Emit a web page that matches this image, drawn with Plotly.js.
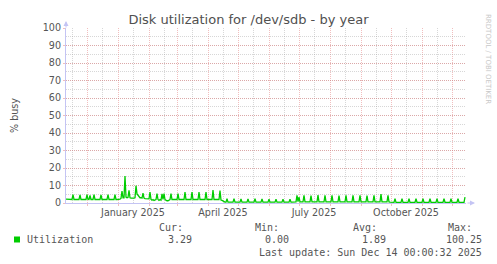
<!DOCTYPE html>
<html>
<head>
<meta charset="utf-8">
<script src="https://cdn.plot.ly/plotly-3.0.1.min.js"></script>
<style>
  html, body { margin: 0; padding: 0; background: #ffffff; }
  #chart { width: 497px; height: 264px; }
</style>
</head>
<body>
<div id="chart"></div>
<script>
// ---------- data (daily averages, 2024-11-10 .. 2025-12-14) ----------
const startDate = '2024-11-10';
const utilization = [
  2.2, 2.1, 2.0, 2.0, 2.1, 2.0, 2.0,
  4.8, 2.0, 2.0, 2.0, 2.1, 2.0, 2.0,
  4.7, 2.0, 2.0, 2.1, 2.0, 2.0, 2.0,
  4.8, 2.1, 2.0, 4.3, 2.0, 2.0, 2.0,
  4.8, 2.0, 2.0, 2.0, 2.0, 2.1, 2.0,
  4.7, 2.0, 2.0, 2.0, 2.0, 2.0, 2.0,
  4.8, 2.0, 2.0, 2.0, 2.0, 2.0, 2.0,
  4.8, 2.0, 2.0, 2.0, 2.0, 2.2, 2.6,
  6.8, 3.0, 3.0, 15.4, 3.4, 3.0, 3.2,
  7.3, 3.0, 2.8, 2.7, 2.8, 2.8, 3.0,
  9.9, 5.2, 4.4, 3.2, 3.0, 3.0, 2.8,
  5.6, 2.8, 2.5, 2.4, 2.4, 2.3, 2.4,
  6.2, 2.1, 1.6, 2.0, 1.5, 1.6, 2.0,
  5.3, 2.0, 1.5, 2.0, 1.6, 5.2, 2.0,
  5.3, 1.9, 1.5, 1.3, 1.3, 1.5, 1.9,
  5.3, 2.0, 2.0, 2.0, 2.0, 2.0, 2.0,
  5.4, 2.0, 2.0, 2.0, 2.0, 2.0, 2.0,
  6.2, 2.0, 2.0, 2.0, 2.0, 2.0, 2.0,
  6.3, 2.0, 2.0, 2.0, 2.0, 2.0, 2.0,
  6.2, 2.0, 2.0, 2.0, 2.0, 2.0, 2.0,
  6.2, 2.0, 2.0, 2.0, 2.0, 2.0, 2.0,
  7.4, 2.0, 2.0, 2.0, 2.0, 2.0, 2.0,
  7.1, 1.7, 1.5, 1.1, 0.7, 0.5, 0.5,
  2.4, 0.5, 0.5, 0.5, 0.5, 0.5, 0.5,
  2.4, 0.5, 0.5, 0.5, 0.5, 0.5, 0.5,
  2.3, 0.5, 0.5, 0.5, 0.5, 0.5, 0.5,
  2.3, 0.5, 0.5, 0.5, 0.5, 0.5, 0.5,
  2.4, 0.5, 0.5, 0.5, 0.5, 0.5, 0.5,
  2.3, 0.5, 0.5, 0.5, 0.5, 0.5, 0.5,
  2.2, 0.5, 0.5, 0.5, 0.5, 0.5, 0.5,
  2.1, 0.5, 0.5, 0.5, 0.5, 0.5, 0.5,
  2.2, 0.5, 0.5, 0.5, 0.5, 0.5, 0.5,
  2.2, 0.5, 0.5, 0.5, 0.5, 0.6, 0.7,
  4.4, 0.8, 3.4, 0.7, 0.7, 0.7, 0.7,
  4.4, 0.7, 0.7, 0.7, 0.7, 0.7, 0.7,
  4.3, 0.7, 0.7, 0.7, 0.7, 0.7, 0.7,
  4.5, 0.7, 0.7, 0.7, 0.7, 0.7, 0.7,
  4.4, 0.7, 0.7, 0.7, 0.7, 0.7, 0.7,
  4.4, 0.7, 0.7, 0.7, 0.7, 0.7, 0.7,
  4.3, 0.7, 0.7, 0.7, 0.7, 0.7, 0.7,
  4.4, 0.7, 0.7, 0.7, 0.7, 0.7, 0.7,
  4.4, 0.7, 0.7, 0.7, 0.7, 0.7, 0.7,
  4.4, 0.7, 0.7, 0.7, 0.7, 0.7, 0.7,
  4.3, 0.7, 0.7, 0.7, 0.7, 0.7, 0.7,
  4.4, 0.7, 0.7, 0.7, 0.7, 0.7, 0.7,
  5.1, 0.7, 0.7, 0.7, 0.7, 0.7, 0.7,
  4.4, 0.6, 0.5, 0.4, 0.4, 0.4, 0.4,
  2.5, 0.4, 0.4, 0.4, 0.4, 0.4, 0.4,
  2.5, 0.4, 0.4, 0.4, 0.4, 0.4, 0.4,
  2.5, 0.4, 0.4, 0.4, 0.4, 0.4, 0.4,
  2.4, 0.4, 0.4, 0.4, 0.4, 0.4, 0.4,
  2.5, 0.4, 0.4, 0.4, 0.4, 0.4, 0.4,
  2.4, 0.4, 0.4, 0.4, 0.4, 0.4, 0.4,
  2.5, 0.4, 0.4, 0.4, 0.4, 0.4, 0.4,
  2.4, 0.4, 0.4, 0.4, 0.4, 0.4, 0.4,
  2.5, 0.4, 0.4, 0.4, 0.4, 0.4, 0.4,
  2.4, 0.4, 0.4, 0.4, 0.4, 0.4, 0.4,
  3.29
];

const xRange = ['2024-11-10', '2025-12-15'];
const monthStarts = ['2024-12-01','2025-01-01','2025-02-01','2025-03-01','2025-04-01','2025-05-01',
                     '2025-06-01','2025-07-01','2025-08-01','2025-09-01','2025-10-01','2025-11-01','2025-12-01'];
const midMonths   = ['2024-11-16','2024-12-16','2025-01-16','2025-02-16','2025-03-16','2025-04-16','2025-05-16',
                     '2025-06-16','2025-07-16','2025-08-16','2025-09-16','2025-10-16','2025-11-16'];
const midMonthLabels = ['','','January 2025','','','April 2025','','','July 2025','','','October 2025',''];

const yTicks = [0,10,20,30,40,50,60,70,80,90,100];

const seriesName = 'Utilization';
const statHeaders = ['Cur:','Min:','Avg:','Max:'];
const statValues  = ['3.29','0.00','1.89','100.25'];
const lastUpdate  = 'Last update: Sun Dec 14 00:00:32 2025';
const titleText   = 'Disk utilization for /dev/sdb - by year';
const yTitle      = '% busy';
const watermark   = 'RRDTOOL / TOBI OETIKER';

// ---------- build ----------
function dayList(start, n) {
  const out = [];
  const t0 = Date.parse(start + 'T00:00:00Z');
  for (let i = 0; i < n; i++) {
    out.push(new Date(t0 + i * 86400000).toISOString().slice(0, 10));
  }
  return out;
}
const dates = dayList(startDate, utilization.length);

const W = 497, H = 264;
const M = {l: 66, r: 31, t: 28, b: 61};
const PW = W - M.l - M.r, PH = H - M.t - M.b;
const px = v => (v - M.l) / PW;       // page px -> paper x
const py = v => (H - M.b - v) / PH;   // page px -> paper y

const MAJ = 'rgba(225,110,110,0.45)';
const MIN = 'rgba(160,160,160,0.42)';
const AXIS = '#c4c4f4';
const TXT = '#555555';
const mono = 'DejaVu Sans Mono, monospace';
const sans = 'DejaVu Sans, sans-serif';

const traces = [{
  x: dates, y: utilization, type: 'scatter', mode: 'lines',
  name: seriesName, line: {color: '#00cc00', width: 1.3}, hoverinfo: 'skip', showlegend: false
}];

const ann = [];
function txt(t, x, y, anchor, font, extra) {
  ann.push(Object.assign({text: t, xref: 'paper', yref: 'paper', x: px(x), y: py(y),
    xanchor: anchor, yanchor: 'middle', showarrow: false, font: font}, extra || {}));
}
const legFont = {family: mono, size: 10, color: TXT};
txt(statHeaders[0], 157, 227, 'left', legFont);
txt(statHeaders[1], 253, 227, 'left', legFont);
txt(statHeaders[2], 351, 227, 'left', legFont);
txt(statHeaders[3], 446, 227, 'left', legFont);
txt(seriesName, 25, 239.5, 'left', legFont);
txt(statValues[0], 194, 239.5, 'right', legFont);
txt(statValues[1], 291, 239.5, 'right', legFont);
txt(statValues[2], 388, 239.5, 'right', legFont);
txt(statValues[3], 484, 239.5, 'right', legFont);
txt(lastUpdate, 484, 252, 'right', legFont);
txt(yTitle, 14, 116, 'center', {family: sans, size: 9.6, color: TXT}, {textangle: -90});
txt(watermark, 488, 59, 'center', {family: sans, size: 7, color: '#c8c8c8'}, {textangle: 90});

// axis arrows
ann.push({xref: 'paper', yref: 'paper', x: px(66), y: py(21), ax: 0, ay: 8, text: '',
  showarrow: true, arrowhead: 2, arrowsize: 1, arrowwidth: 1, arrowcolor: AXIS});
ann.push({xref: 'paper', yref: 'paper', x: px(475), y: py(203), ax: -9, ay: 0, text: '',
  showarrow: true, arrowhead: 2, arrowsize: 1, arrowwidth: 1, arrowcolor: AXIS});

const layout = {
  width: W, height: H, margin: M,
  paper_bgcolor: '#ffffff', plot_bgcolor: '#ffffff',
  showlegend: false,
  title: {text: titleText, font: {family: sans, size: 13, color: '#505050'},
          x: 0.5, xref: 'container', xanchor: 'center', y: 1 - 19.5 / H, yref: 'container', yanchor: 'middle'},
  xaxis: {
    type: 'date', range: xRange, fixedrange: true,
    tickmode: 'array', tickvals: midMonths, ticktext: midMonthLabels,
    ticks: '', showgrid: true, gridcolor: MIN, griddash: '1px,1px', gridwidth: 1,
    minor: {tickmode: 'array', tickvals: monthStarts, showgrid: true, gridcolor: MAJ,
            griddash: '1px,1px', gridwidth: 1, ticks: 'outside', ticklen: 2, tickcolor: MAJ},
    showline: true, linecolor: AXIS, linewidth: 1, zeroline: false,
    tickfont: {family: sans, size: 9.6, color: TXT}
  },
  yaxis: {
    range: [0, 100], fixedrange: true,
    tickmode: 'array', tickvals: yTicks,
    ticks: 'outside', ticklen: 2, tickcolor: MAJ,
    showgrid: true, gridcolor: MAJ, griddash: '1px,1px', gridwidth: 1,
    minor: {dtick: 5, tick0: 0, showgrid: true, gridcolor: MIN, griddash: '1px,1px', gridwidth: 1},
    showline: true, linecolor: AXIS, linewidth: 1, zeroline: false,
    tickfont: {family: sans, size: 9.6, color: TXT}
  },
  shapes: [{type: 'rect', xref: 'paper', yref: 'paper', x0: px(14), x1: px(20), y0: py(242.5), y1: py(236.5),
            fillcolor: '#00cc00', line: {width: 0}}],
  annotations: ann
};

Plotly.newPlot('chart', traces, layout, {staticPlot: true, displayModeBar: false});
</script>
</body>
</html>
